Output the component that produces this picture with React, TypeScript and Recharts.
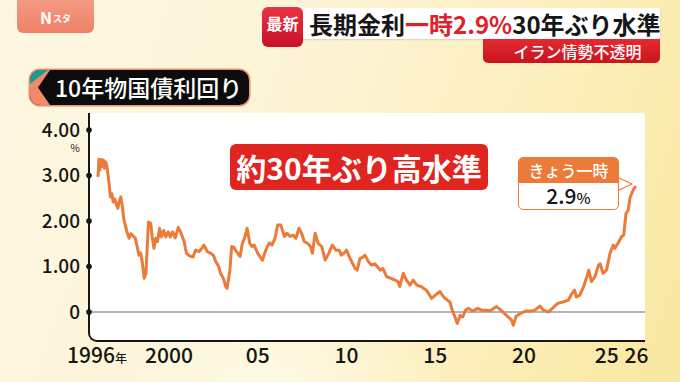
import React from "react";
import { LineChart, Line, XAxis, YAxis, ReferenceLine } from "recharts";

const dates = [
  1996.0, 1996.05, 1996.1, 1996.16, 1996.22, 1996.3, 1996.36, 1996.43, 1996.5, 1996.6,
  1996.7, 1996.78, 1996.85, 1996.95, 1997.05, 1997.12, 1997.2, 1997.28, 1997.36, 1997.46,
  1997.55, 1997.65, 1997.75, 1997.85, 1997.95, 1998.1, 1998.2, 1998.3, 1998.4, 1998.5,
  1998.6, 1998.7, 1998.78, 1998.84, 1998.97, 1999.05, 1999.15, 1999.25, 1999.35, 1999.47,
  1999.57, 1999.7, 1999.82, 1999.95, 2000.07, 2000.2, 2000.35, 2000.52, 2000.65, 2000.85,
  2000.98, 2001.1, 2001.2, 2001.35, 2001.5, 2001.7, 2001.85, 2001.97, 2002.15, 2002.35,
  2002.5, 2002.63, 2002.8, 2002.9, 2003.05, 2003.2, 2003.27, 2003.43, 2003.53, 2003.65,
  2003.8, 2004.0, 2004.13, 2004.25, 2004.4, 2004.55, 2004.68, 2004.8, 2005.0, 2005.26,
  2005.45, 2005.65, 2005.8, 2005.97, 2006.12, 2006.3, 2006.5, 2006.65, 2006.82, 2007.0,
  2007.15, 2007.32, 2007.47, 2007.62, 2007.8, 2007.97, 2008.08, 2008.23, 2008.4, 2008.6,
  2008.8, 2009.0, 2009.2, 2009.4, 2009.6, 2009.7, 2009.85, 2010.0, 2010.2, 2010.48,
  2010.6, 2010.76, 2010.9, 2011.04, 2011.23, 2011.4, 2011.6, 2011.9, 2012.05, 2012.26,
  2012.5, 2012.73, 2012.9, 2013.0, 2013.2, 2013.38, 2013.58, 2013.76, 2013.96, 2014.2,
  2014.5, 2014.8, 2015.0, 2015.27, 2015.45, 2015.68, 2015.83, 2015.95, 2016.1, 2016.24,
  2016.4, 2016.55, 2016.7, 2016.87, 2017.1, 2017.4, 2017.6, 2017.9, 2018.1, 2018.45,
  2018.7, 2019.0, 2019.3, 2019.4, 2019.55, 2019.8, 2020.1, 2020.35, 2020.6, 2020.9,
  2021.1, 2021.37, 2021.6, 2021.9, 2022.2, 2022.5, 2022.7, 2022.85, 2022.95, 2023.15,
  2023.36, 2023.55, 2023.65, 2023.8, 2024.0, 2024.2, 2024.3, 2024.45, 2024.65, 2024.85,
  2025.03, 2025.12, 2025.3, 2025.5, 2025.62, 2025.75, 2025.88, 2025.97, 2026.15, 2026.3,
];
const yields = [
  2.97, 3.36, 3.12, 3.35, 3.2, 3.34, 3.16, 3.3, 3.2, 2.9,
  2.53, 2.6, 2.42, 2.48, 2.34, 2.28, 2.44, 2.53, 2.35, 2.02,
  1.88, 1.73, 1.62, 1.72, 1.68, 1.62, 1.45, 1.25, 1.3, 1.07,
  0.74, 0.85, 1.5, 1.98, 1.95, 1.65, 1.4, 1.62, 1.55, 1.84,
  1.65, 1.79, 1.65, 1.76, 1.65, 1.76, 1.63, 1.86, 1.76, 1.55,
  1.29, 1.25, 1.23, 1.21, 1.36, 1.33, 1.4, 1.47, 1.33, 1.29,
  1.25, 1.11, 1.0, 0.85, 0.75, 0.56, 0.52, 0.92, 1.44, 1.42,
  1.33, 1.22, 1.51, 1.62, 1.84, 1.51, 1.44, 1.47, 1.29, 1.14,
  1.36, 1.52, 1.47, 1.62, 1.91, 1.91, 1.66, 1.73, 1.66, 1.69,
  1.62, 1.84, 1.73, 1.55, 1.51, 1.44, 1.29, 1.73, 1.51, 1.44,
  1.14, 1.29, 1.47, 1.36, 1.36, 1.25, 1.29, 1.36, 1.18, 0.96,
  0.92, 1.18, 1.2, 1.25, 1.11, 1.03, 1.06, 0.92, 0.96, 0.78,
  0.74, 0.7, 0.67, 0.56, 0.85, 0.7, 0.59, 0.7, 0.59, 0.56,
  0.48, 0.3, 0.37, 0.45, 0.34, 0.26, 0.22, 0.05, -0.1, -0.25,
  -0.07, -0.11, 0.04, 0.08, 0.02, 0.08, 0.04, 0.04, 0.03, 0.12,
  0.04, -0.07, -0.18, -0.29, -0.1, -0.03, 0.02, 0.02, 0.04, 0.13,
  0.04, 0.0, 0.08, 0.19, 0.22, 0.26, 0.41, 0.48, 0.33, 0.37,
  0.56, 0.78, 0.92, 0.67, 0.78, 1.03, 1.06, 0.85, 0.92, 1.29,
  1.47, 1.4, 1.51, 1.66, 1.69, 2.17, 2.24, 2.5, 2.68, 2.77,
];

const xTicks = [1996, 2000, 2005, 2010, 2015, 2020, 2025, 2026];
const xTickLabels = ["1996", "2000", "05", "10", "15", "20", "25", "26"];
const yTicks = [0, 1, 2, 3, 4];
const yTickLabels = ["0", "1.00", "2.00", "3.00", "4.00"];

const data = dates.map((t, i) => ({ t, v: yields[i] }));

const FONT = '"Noto Sans CJK JP", "Noto Sans", sans-serif';
const ORANGE = "#EC7A38";
const INK = "#161616";

function XTick({ x, y, payload }: any) {
  const i = xTicks.indexOf(payload.value);
  const label = xTickLabels[i];
  if (payload.value === 1996) {
    return (
      <text x={x - 1} y={y + 23} textAnchor="middle" fontSize={21} fontWeight={500} fill={INK} fontFamily={FONT}>
        {label}
        <tspan fontSize={12}>年</tspan>
      </text>
    );
  }
  const dx = payload.value === 2025 ? -6 : payload.value === 2026 ? 6 : 0;
  return (
    <text x={x + dx} y={y + 23} textAnchor="middle" fontSize={21} fontWeight={500} fill={INK} fontFamily={FONT}>
      {label}
    </text>
  );
}

function YTick({ x, y, payload }: any) {
  const i = yTicks.indexOf(payload.value);
  return (
    <g>
      <circle cx={x} cy={y} r={2.8} fill={INK} />
      <text x={x - 9} y={y + 6.5} textAnchor="end" fontSize={19} fontWeight={500} fill={INK} fontFamily={FONT}>
        {yTickLabels[i]}
      </text>
      {payload.value === 4 && (
        <text x={x - 14} y={y + 22} textAnchor="middle" fontSize={10} fill={INK} fontFamily={FONT}>
          %
        </text>
      )}
    </g>
  );
}

export default function App() {
  return (
    <div
      style={{
        position: "absolute",
        left: 0,
        top: 0,
        width: 680,
        height: 382,
        overflow: "hidden",
        fontFamily: FONT,
        background:
          "radial-gradient(ellipse 260px 200px at 270px 400px, rgba(255,252,235,0.8), rgba(255,252,235,0) 70%), linear-gradient(110deg, #fef8e3 0%, #fdf4d6 40%, #fcefbd 70%, #f9e8a0 100%)",
      }}
    >
      {/* N-sta logo */}
      <div
        style={{
          position: "absolute",
          left: 17,
          top: -6,
          width: 77,
          height: 39,
          borderRadius: 6,
          background: "linear-gradient(180deg, #f5a088 0%, #ee8068 100%)",
          color: "#fff",
          display: "flex",
          alignItems: "center",
          justifyContent: "center",
          paddingTop: 6,
          boxSizing: "border-box",
        }}
      >
        <span style={{ fontSize: 16, fontWeight: 700 }}>N</span>
        <span style={{ fontSize: 9, fontWeight: 700, marginLeft: 1, marginTop: 3 }}>スタ</span>
      </div>

      {/* headline */}
      <div
        style={{
          position: "absolute",
          left: 300,
          top: 8,
          width: 360,
          height: 31,
          background: "#fff",
          borderRadius: 3,
          boxShadow: "0 1px 2px rgba(0,0,0,0.15)",
        }}
      />
      <div
        style={{
          position: "absolute",
          left: 483,
          top: 39,
          width: 177,
          height: 24,
          background: "linear-gradient(180deg, #e42a30 0%, #c9141e 100%)",
          borderRadius: "0 0 5px 5px",
          color: "#fff",
          fontSize: 16,
          fontWeight: 500,
          display: "flex",
          alignItems: "center",
          justifyContent: "center",
          paddingLeft: 12,
          boxSizing: "border-box",
        }}
      >
        イラン情勢不透明
      </div>
      <div
        style={{
          position: "absolute",
          left: 262,
          top: 7,
          width: 41,
          height: 40,
          background: "linear-gradient(180deg, #ea3441 0%, #c8102a 100%)",
          borderRadius: 6,
          color: "#fff",
          fontSize: 16,
          fontWeight: 700,
          display: "flex",
          alignItems: "center",
          justifyContent: "center",
          paddingBottom: 8,
          boxSizing: "border-box",
        }}
      >
        最新
      </div>
      <div
        style={{
          position: "absolute",
          left: 309,
          top: 8,
          height: 31,
          lineHeight: "31px",
          fontSize: 24,
          fontWeight: 700,
          color: INK,
          whiteSpace: "nowrap",
        }}
      >
        長期金利<span style={{ color: "#e0202a" }}>一時2.9%</span>30年ぶり水準
      </div>

      {/* series title */}
      <div
        style={{
          position: "absolute",
          left: 30,
          top: 70,
          width: 219,
          height: 35,
          borderRadius: 10,
          background: "#0c0c0c",
          overflow: "hidden",
          boxShadow: "0 0 0 1.5px #e8906f",
        }}
      >
        <div
          style={{
            position: "absolute",
            left: 0,
            top: 0,
            width: 20,
            height: 35,
            background: "#ef8a6c",
            clipPath: "polygon(0 0, 100% 0, 40% 50%, 100% 100%, 0 100%)",
          }}
        />
        <div
          style={{
            position: "absolute",
            left: 0,
            top: 0,
            width: 18,
            height: 14,
            background: "#1d9a94",
            clipPath: "polygon(0 0, 100% 0, 0 100%)",
          }}
        />
        <div
          style={{
            position: "absolute",
            left: 25,
            top: 0,
            height: 35,
            lineHeight: "35px",
            color: "#fff",
            fontSize: 23,
            fontWeight: 500,
            whiteSpace: "nowrap",
          }}
        >
          10年物国債利回り
        </div>
      </div>

      {/* plot panel with L-shaped axis */}
      <div
        style={{
          position: "absolute",
          left: 88,
          top: 113,
          width: 557,
          height: 229,
          background: "#fff",
          borderLeft: `2.5px solid ${INK}`,
          borderBottom: `2.5px solid ${INK}`,
          borderRadius: "0 4px 0 9px",
          boxSizing: "border-box",
        }}
      />

      <div style={{ position: "absolute", left: 0, top: 0 }}>
        <LineChart width={680} height={382} data={data} margin={{ top: 113, right: 35, left: 0, bottom: 0 }}>
          <XAxis
            dataKey="t"
            type="number"
            domain={[1995.49, 2026.82]}
            ticks={xTicks}
            tick={<XTick />}
            axisLine={false}
            tickLine={false}
            tickSize={0}
            tickMargin={0}
            height={42}
            interval={0}
            allowDataOverflow
          />
          <YAxis
            type="number"
            domain={[-0.615, 4.374]}
            ticks={yTicks}
            tick={<YTick />}
            axisLine={false}
            tickLine={false}
            tickSize={0}
            tickMargin={0}
            width={89}
            interval={0}
            allowDataOverflow
          />
          <ReferenceLine y={0} stroke="#9b9b9b" strokeWidth={1.5} />
          <Line
            type="linear"
            dataKey="v"
            stroke={ORANGE}
            strokeWidth={3}
            dot={false}
            strokeLinejoin="round"
            isAnimationActive={false}
          />
        </LineChart>
      </div>

      {/* headline on the chart */}
      <div
        style={{
          position: "absolute",
          left: 230,
          top: 144,
          width: 258,
          height: 46,
          borderRadius: 6,
          background: "#e0241f",
          color: "#fff",
          fontSize: 30,
          fontWeight: 700,
          display: "flex",
          alignItems: "center",
          justifyContent: "center",
          whiteSpace: "nowrap",
        }}
      >
        約30年ぶり高水準
      </div>

      {/* callout */}
      <svg style={{ position: "absolute", left: 0, top: 0 }} width={680} height={382}>
        <polygon points="617,177 632,184 617,191" fill="#fff" stroke={ORANGE} strokeWidth={1.3} strokeLinejoin="round" />
      </svg>
      <div
        style={{
          position: "absolute",
          left: 518,
          top: 157,
          width: 101,
          height: 53,
          borderRadius: 5,
          border: `1.5px solid ${ORANGE}`,
          background: "#fff",
          overflow: "hidden",
          boxSizing: "border-box",
        }}
      >
        <div
          style={{
            height: 25,
            lineHeight: "25px",
            background: ORANGE,
            color: "#fff",
            fontSize: 16,
            fontWeight: 500,
            textAlign: "center",
          }}
        >
          きょう一時
        </div>
        <div style={{ height: 25, lineHeight: "25px", fontSize: 21, fontWeight: 500, color: INK, textAlign: "center" }}>
          2.9<span style={{ fontSize: 15 }}>%</span>
        </div>
      </div>
    </div>
  );
}
